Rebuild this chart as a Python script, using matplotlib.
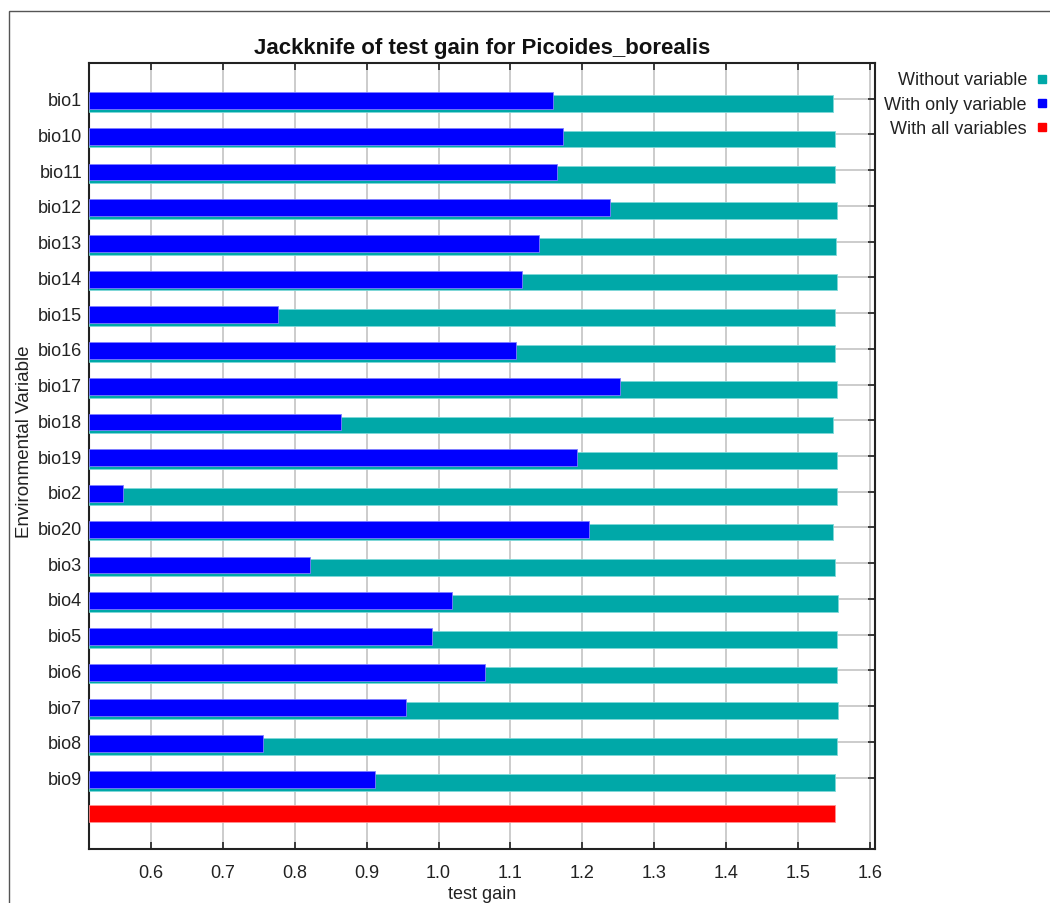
import matplotlib
matplotlib.use("Agg")
import matplotlib.pyplot as plt
from matplotlib.patches import Rectangle

variables = ["bio1", "bio10", "bio11", "bio12", "bio13", "bio14", "bio15", "bio16",
             "bio17", "bio18", "bio19", "bio2", "bio20", "bio3", "bio4", "bio5",
             "bio6", "bio7", "bio8", "bio9"]
without_variable = [1.549, 1.552, 1.551, 1.554, 1.553, 1.554, 1.551, 1.551,
                    1.554, 1.549, 1.554, 1.554, 1.549, 1.551, 1.556, 1.554,
                    1.554, 1.556, 1.554, 1.551]
with_only_variable = [1.159, 1.173, 1.165, 1.238, 1.140, 1.116, 0.777, 1.108,
                      1.252, 0.864, 1.192, 0.561, 1.209, 0.821, 1.019, 0.991,
                      1.064, 0.955, 0.756, 0.911]
with_all_variables = 1.551

title = "Jackknife of test gain for Picoides_borealis"
x_ticks = [0.6, 0.7, 0.8, 0.9, 1.0, 1.1, 1.2, 1.3, 1.4, 1.5, 1.6]
legend_labels = ["Without variable", "With only variable", "With all variables"]

TEAL = "#00a8a8"
BLUE = "#0000ff"
RED = "#ff0000"
FONT = "Liberation Sans"
FS = 13

W, H = 1050, 904
fig = plt.figure(figsize=(W / 100, H / 100), dpi=100)

# outer frame (cut off on right / bottom)
fig.patches.append(Rectangle((9 / W, -0.1), 2.0, 1 - 12 / H + 0.1, transform=fig.transFigure,
                             fill=False, edgecolor="#555555", linewidth=1.0))

ax_l, ax_r, ax_t, ax_b = 89, 875, 64, 850
ax = fig.add_axes([ax_l / W, 1 - ax_b / H, (ax_r - ax_l) / W, (ax_b - ax_t) / H])

xmin, xmax = 0.5138, 1.607
ax.set_xlim(xmin, xmax)
ax.set_ylim(22, 0)

pos = list(range(1, len(variables) + 1))
h = 0.47
ax.barh([p + 0.13 for p in pos], [v - xmin for v in without_variable], left=xmin,
        height=h, color=TEAL, edgecolor="#7fd8d8", linewidth=0.6, zorder=3)
ax.barh([p + 0.05 for p in pos], [v - xmin for v in with_only_variable], left=xmin,
        height=h, color=BLUE, edgecolor="#7f7fff", linewidth=0.6, zorder=4)
ax.barh([21], [with_all_variables - xmin], left=xmin, height=h, color=RED,
        edgecolor="#ff9090", linewidth=0.6, zorder=4)

ax.set_yticks(pos)
ax.set_yticklabels(variables, fontsize=FS, family=FONT, color="#222222")
ax.set_xticks(x_ticks)
ax.set_xticklabels([f"{t:.1f}" for t in x_ticks], fontsize=FS, family=FONT, color="#222222")

ax.grid(True, color="#c8c8c8", linewidth=1.3, zorder=0)
ax.set_axisbelow(True)

ax.tick_params(axis="x", direction="in", length=5, width=1.2, color="#222222",
               top=True, bottom=True, pad=11)
ax.tick_params(axis="y", direction="in", length=5, width=1.2, color="#222222",
               left=False, right=True, pad=5)
for s in ax.spines.values():
    s.set_color("#222222")
    s.set_linewidth(1.5)

ax.set_title(title, fontsize=16, fontweight="bold", family=FONT, pad=7, color="#111111")
ax.set_xlabel("test gain", fontsize=FS, family=FONT, color="#222222", labelpad=3)
ax.set_ylabel("Environmental Variable", fontsize=13.5, family=FONT, color="#222222")
ax.yaxis.set_label_coords(-0.0712, 0.519)

# legend
leg_colors = [TEAL, BLUE, RED]
for i, (lab, c) in enumerate(zip(legend_labels, leg_colors)):
    yc = 81 + 24 * i
    fig.text(1027 / W, 1 - yc / H, lab, ha="right", va="center", fontsize=FS,
             family=FONT, color="#222222")
    fig.patches.append(Rectangle((1038 / W, 1 - (yc + 3) / H), 8 / W, 8 / H,
                                 transform=fig.transFigure, color=c))

fig.savefig("out.png", dpi=100)
